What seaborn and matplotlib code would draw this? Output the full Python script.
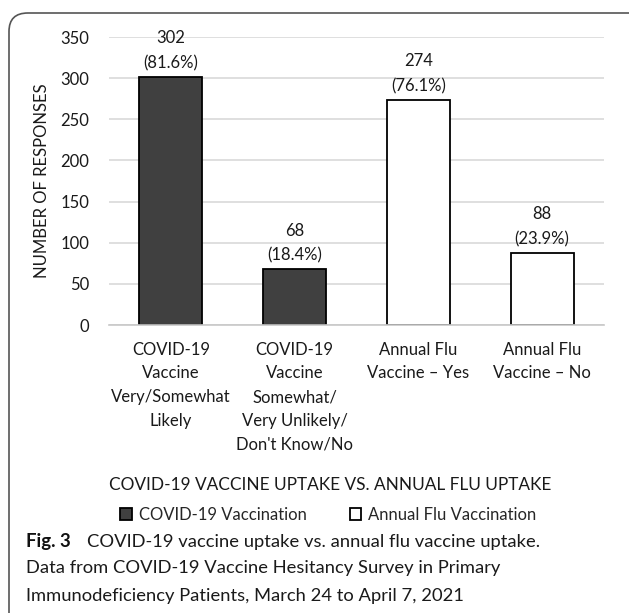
import matplotlib

matplotlib.use("Agg")
import matplotlib.pyplot as plt
import pandas as pd
import seaborn as sns
from matplotlib.patches import FancyBboxPatch, Patch

# chart data
categories = [
    "COVID-19\nVaccine\nVery/Somewhat\nLikely",
    "COVID-19\nVaccine\nSomewhat/\nVery Unlikely/\nDon't Know/No",
    "Annual Flu\nVaccine \u2013 Yes",
    "Annual Flu\nVaccine \u2013 No",
]
responses = [302, 68, 274, 88]
percents = ["81.6%", "18.4%", "76.1%", "23.9%"]
groups = ["COVID-19 Vaccination", "COVID-19 Vaccination",
          "Annual Flu Vaccination", "Annual Flu Vaccination"]
y_ticks = [0, 50, 100, 150, 200, 250, 300, 350]

df = pd.DataFrame({"category": categories, "responses": responses, "group": groups})
palette = {"COVID-19 Vaccination": "#404040", "Annual Flu Vaccination": "white"}
txt = "#1a1a1a"

sns.set_style("white")
plt.rcParams["font.family"] = ["Lato", "DejaVu Sans"]

fig = plt.figure(figsize=(6.29, 6.13), dpi=100)
ax = fig.add_axes([0.1733, 0.4698, 0.787, 0.4698])

sns.barplot(
    data=df, x="category", y="responses", hue="group", palette=palette,
    dodge=False, width=0.51, edgecolor="black", linewidth=1.3, ax=ax, legend=False,
)

for i, (v, p) in enumerate(zip(responses, percents)):
    ax.annotate(f"{v}\n({p})", (i, v), xytext=(0, 4), textcoords="offset points",
                ha="center", va="bottom", fontsize=12, color=txt,
                linespacing=1.65)

ax.set_ylim(0, 350)
ax.set_xlim(-0.5, 3.5)
ax.set_yticks(y_ticks)
ax.yaxis.grid(True, color="#d9d9d9", linewidth=1.2)
ax.set_axisbelow(True)
for s in ["left", "right", "top"]:
    ax.spines[s].set_visible(False)
ax.spines["bottom"].set_color("#c8c8c8")
ax.spines["bottom"].set_linewidth(1.2)
ax.tick_params(axis="y", length=0, labelsize=12, pad=14, labelcolor=txt)
ax.tick_params(axis="x", which="major", length=0, labelsize=12, pad=12,
               labelcolor=txt)
ax.set_xticks([-0.5, 0.5, 1.5, 2.5, 3.5], minor=True)
ax.tick_params(axis="x", which="minor", length=5, width=1.2, color="#c8c8c8",
               direction="out")
for lbl in ax.get_xticklabels():
    lbl.set_linespacing(1.6)
ax.set_xlabel("")
ax.set_ylabel("NUMBER OF RESPONSES", fontsize=12, labelpad=8, color=txt)

fig.text(0.525, 1 - 485 / 613, "COVID-19 VACCINE UPTAKE VS. ANNUAL FLU UPTAKE",
         ha="center", va="center", fontsize=12.4, color=txt)

handles = [Patch(facecolor=palette[g], edgecolor="black", linewidth=1.3, label=g)
           for g in ["COVID-19 Vaccination", "Annual Flu Vaccination"]]
fig.legend(handles=handles, loc="center", bbox_to_anchor=(0.522, 1 - 515 / 613),
           ncol=2, frameon=False, fontsize=12, handlelength=0.7, handleheight=0.7,
           handletextpad=0.4, columnspacing=2.6)

fig.text(26 / 629, 1 - 542 / 613, "Fig. 3", ha="left", va="center",
         fontsize=13.4, fontweight="bold", color="#111111")
fig.text(87 / 629, 1 - 542 / 613,
         "COVID-19 vaccine uptake vs. annual flu vaccine uptake.",
         ha="left", va="center", fontsize=13.2, color=txt)
fig.text(26 / 629, 1 - 568 / 613,
         "Data from COVID-19 Vaccine Hesitancy Survey in Primary",
         ha="left", va="center", fontsize=13.2, color=txt)
fig.text(26 / 629, 1 - 596 / 613,
         "Immunodeficiency Patients, March 24 to April 7, 2021",
         ha="left", va="center", fontsize=13.2, color=txt)

frame = FancyBboxPatch((9 / 629, -0.1), 1.2, 1.1 - 13 / 613,
                       boxstyle="round,pad=0,rounding_size=0.03",
                       transform=fig.transFigure, facecolor="none",
                       edgecolor="#555555", linewidth=1.2, clip_on=False)
fig.patches.append(frame)

fig.savefig("out.png", dpi=100)
